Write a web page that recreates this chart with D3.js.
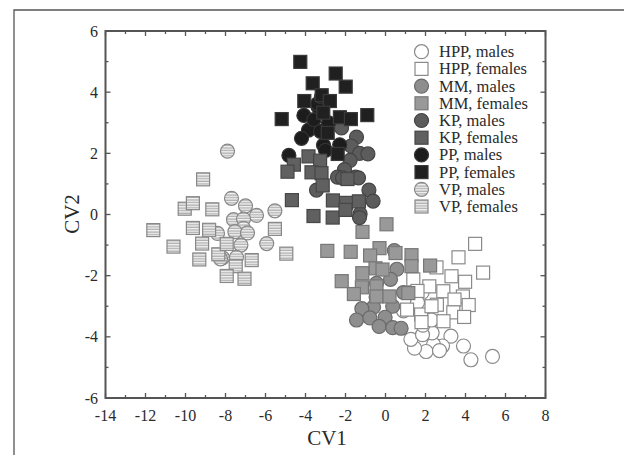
<!DOCTYPE html>
<html>
<head>
<meta charset="utf-8">
<script src="https://cdn.jsdelivr.net/npm/d3@7"></script>
<style>
  body { margin: 0; background: #fff; }
  svg { display: block; }
</style>
</head>
<body>
<svg id="chart" width="624" height="455"></svg>
<script>
// group points [CV1, CV2]
var hppMales = [[5.35,-4.64],[4.27,-4.75],[3.9,-4.3],[3.27,-3.98],[2.85,-4.3],[2.4,-4.25],[2.03,-4.48],
  [1.45,-4.37],[1.27,-4.08],[2.33,-3.87],[1.85,-3.93],[1.87,-3.62],[1.83,-2.55],[1.6,-2.88],[0.9,-3.15],
  [2.3,-3.45],[2.7,-4.45]];
var hppFemales = [[4.48,-0.96],[3.65,-1.4],[4.88,-1.9],[2.55,-1.73],[1.39,-2.12],[2.19,-2.35],[3.3,-2.02],
  [3.98,-2.2],[2.89,-2.51],[3.87,-2.68],[3.45,-2.78],[2.57,-2.95],[4.16,-2.96],[1.08,-3.11],[1.78,-3.27],
  [3.39,-3.2],[3.93,-3.35],[2.9,-3.49],[1.8,-3.52],[1.6,-2.5],[2.3,-3.0]];
var mmMales = [[0.44,-1.18],[0.57,-1.79],[0.25,-2.12],[-0.45,-2.25],[-0.47,-2.7],[0.36,-3.0],[-0.6,-3.03],
  [-1.18,-3.08],[-1.45,-3.45],[-0.78,-3.38],[-0.02,-3.36],[-0.32,-3.66],[0.36,-3.7],[0.78,-3.72],[0.9,-2.55]];
var mmFemales = [[0.05,-0.32],[-1.15,-0.57],[-2.91,-1.19],[-1.74,-1.22],[-0.3,-1.1],[-0.77,-1.34],[0.5,-1.26],
  [1.3,-1.33],[1.3,-1.69],[2.23,-1.67],[-0.5,-1.76],[-0.15,-1.8],[-1.16,-1.92],[-2.19,-2.18],[-1.18,-2.38],
  [-0.45,-2.35],[-1.58,-2.6],[-0.45,-2.68],[0.2,-2.68],[1.14,-2.57]];
var kpMales = [[-2.2,2.83],[-1.45,2.53],[-1.72,2.24],[-1.3,2.0],[-0.88,1.98],[-1.77,1.77],[-2.05,1.47],
  [-2.4,1.22],[-2.15,1.2],[-1.5,1.22],[-1.35,1.2],[-3.45,0.8],[-0.83,0.8],[-0.62,0.44],[-1.27,0.02],[-1.3,-0.1]];
var kpFemales = [[-3.85,1.9],[-4.58,1.63],[-4.9,1.4],[-3.27,1.76],[-3.7,1.38],[-3.2,1.35],[-3.14,0.95],
  [-1.9,1.16],[-4.68,0.47],[-3.6,-0.05],[-2.63,0.46],[-1.97,0.38],[-2.64,-0.1],[-1.33,0.43],[-2.0,0.15]];
var ppMales = [[-4.08,3.24],[-3.85,2.76],[-4.2,2.49],[-4.83,1.93],[-3.58,3.1],[-3.37,3.52],[-3.4,3.62],
  [-3.1,2.27],[-3.0,2.1],[-2.29,2.28],[-3.25,2.72],[-2.85,3.0],[-3.2,3.85]];
var ppFemales = [[-4.26,4.99],[-2.49,4.61],[-1.99,4.18],[-3.64,4.29],[-4.06,3.71],[-3.19,3.9],[-2.78,3.71],
  [-3.11,3.33],[-2.28,3.18],[-1.73,3.12],[-0.91,3.25],[-5.19,3.12],[-2.89,2.67],[-2.39,1.98]];
var vpMales = [[-7.9,2.07],[-7.7,0.53],[-7.0,0.28],[-6.45,-0.03],[-5.53,0.12],[-7.6,-0.17],[-7.1,-0.15],
  [-7.1,-0.45],[-7.53,-0.56],[-6.9,-0.6],[-8.4,-0.62],[-7.23,-1.0],[-5.94,-0.95],[-8.15,-1.42],[-8.25,-1.45],
  [-7.45,-1.4]];
var vpFemales = [[-11.61,-0.51],[-10.6,-1.05],[-10.04,0.19],[-9.63,0.37],[-9.12,1.15],[-8.66,0.17],
  [-9.63,-0.44],[-8.82,-0.5],[-9.17,-0.95],[-9.31,-1.47],[-8.36,-1.3],[-7.94,-0.96],[-7.49,-1.69],
  [-7.94,-2.01],[-7.05,-2.1],[-6.69,-1.49],[-5.53,-0.47],[-4.96,-1.28]];

var legendLabels = ["HPP, males","HPP, females","MM, males","MM, females","KP, males","KP, females",
  "PP, males","PP, females","VP, males","VP, females"];
var xTicks = [-14,-12,-10,-8,-6,-4,-2,0,2,4,6,8];
var yTicks = [-6,-4,-2,0,2,4,6];

var groups = [
  {name: "HPP, males",   pts: hppMales,   shape: "circle", fill: "#ffffff", stroke: "#8a8a8a"},
  {name: "HPP, females", pts: hppFemales, shape: "square", fill: "#ffffff", stroke: "#8a8a8a"},
  {name: "MM, males",    pts: mmMales,    shape: "circle", fill: "#8e8e8e", stroke: "#6a6a6a"},
  {name: "MM, females",  pts: mmFemales,  shape: "square", fill: "#999999", stroke: "#777777"},
  {name: "KP, males",    pts: kpMales,    shape: "circle", fill: "#5c5c5c", stroke: "#444444"},
  {name: "KP, females",  pts: kpFemales,  shape: "square", fill: "#606060", stroke: "#474747"},
  {name: "PP, males",    pts: ppMales,    shape: "circle", fill: "#1c1c1c", stroke: "#333333"},
  {name: "PP, females",  pts: ppFemales,  shape: "square", fill: "#202020", stroke: "#3a3a3a"},
  {name: "VP, males",    pts: vpMales,    shape: "circle", fill: "url(#stripes)", stroke: "#888888"},
  {name: "VP, females",  pts: vpFemales,  shape: "square", fill: "url(#stripes)", stroke: "#888888"}
];
// drawing order (later on top)
var drawOrder = ["HPP, males","HPP, females","MM, males","MM, females","KP, males","PP, males",
  "KP, females","PP, females","VP, males","VP, females"];

var svg = d3.select("#chart");
var serif = "'Liberation Serif', 'Times New Roman', serif";

var mLeft = 105.5, mRight = 545.5, mTop = 31, mBottom = 398;
var xScale = d3.scaleLinear().domain([-14, 8]).range([mLeft, mRight]);
var yScale = d3.scaleLinear().domain([-6, 6]).range([mBottom, mTop]);

// stripes for VP
var pat = svg.append("defs").append("pattern")
  .attr("id", "stripes")
  .attr("patternUnits", "userSpaceOnUse")
  .attr("width", 6).attr("height", 2.6);
pat.append("rect").attr("width", 6).attr("height", 2.6).attr("fill", "#f2f2f2");
pat.append("rect").attr("y", 1.4).attr("width", 6).attr("height", 1).attr("fill", "#9c9c9c");

// outer page frame
svg.append("path")
  .attr("d", "M14,460 L14,10 L630,10")
  .attr("fill", "none").attr("stroke", "#555").attr("stroke-width", 1.3);

var R = 7, S = 13;
function drawMark(sel, g) {
  if (g.shape === "circle") {
    sel.append("circle").attr("r", R);
  } else {
    sel.append("rect").attr("x", -S / 2).attr("y", -S / 2).attr("width", S).attr("height", S);
  }
  sel.selectAll("circle,rect").attr("fill", g.fill).attr("stroke", g.stroke).attr("stroke-width", 1.2);
}

var plot = svg.append("g");
drawOrder.forEach(function(n) {
  var g = groups.find(function(d) { return d.name === n; });
  plot.append("g").selectAll("g").data(g.pts).enter().append("g")
    .attr("transform", function(d) { return "translate(" + xScale(d[0]) + "," + yScale(d[1]) + ")"; })
    .each(function() { drawMark(d3.select(this), g); });
});

// axes: ticks inward on all sides
var minorX = d3.range(-14, 9, 1), minorY = d3.range(-6, 7, 1);
function tickLen(v) { return v % 2 === 0 ? 5 : 3; }
var axG = svg.append("g").attr("stroke", "#555").attr("stroke-width", 1.3);
minorX.forEach(function(v) {
  axG.append("line").attr("x1", xScale(v)).attr("x2", xScale(v)).attr("y1", mBottom).attr("y2", mBottom - tickLen(v));
  axG.append("line").attr("x1", xScale(v)).attr("x2", xScale(v)).attr("y1", mTop).attr("y2", mTop + tickLen(v));
});
minorY.forEach(function(v) {
  axG.append("line").attr("y1", yScale(v)).attr("y2", yScale(v)).attr("x1", mLeft).attr("x2", mLeft + tickLen(v));
  axG.append("line").attr("y1", yScale(v)).attr("y2", yScale(v)).attr("x1", mRight).attr("x2", mRight - tickLen(v));
});
svg.append("rect")
  .attr("x", mLeft).attr("y", mTop).attr("width", mRight - mLeft).attr("height", mBottom - mTop)
  .attr("fill", "none").attr("stroke", "#555").attr("stroke-width", 2);

var fmt = function(v) { return v < 0 ? "-" + Math.abs(v) : String(v); };
svg.append("g").selectAll("text").data(xTicks).enter().append("text")
  .attr("x", function(d) { return xScale(d); }).attr("y", 421)
  .attr("text-anchor", "middle").attr("font-family", serif).attr("font-size", 16).attr("fill", "#2a2a2a")
  .text(fmt);
svg.append("g").selectAll("text").data(yTicks).enter().append("text")
  .attr("x", 98).attr("y", function(d) { return yScale(d) + 5.5; })
  .attr("text-anchor", "end").attr("font-family", serif).attr("font-size", 16).attr("fill", "#2a2a2a")
  .text(fmt);

svg.append("text").attr("x", 327).attr("y", 445).attr("text-anchor", "middle")
  .attr("font-family", serif).attr("font-size", 21).attr("fill", "#2a2a2a").text("CV1");
svg.append("text").attr("transform", "translate(79,214) rotate(-90)").attr("text-anchor", "middle")
  .attr("font-family", serif).attr("font-size", 21).attr("fill", "#2a2a2a").text("CV2");

// legend
var leg = svg.append("g");
legendLabels.forEach(function(lab, i) {
  var g = groups.find(function(d) { return d.name === lab; });
  var cy = 51.7 + i * 17.2;
  var item = leg.append("g").attr("transform", "translate(421.5," + cy + ")");
  drawMark(item, g);
  leg.append("text").attr("x", 439).attr("y", cy + 5.5)
    .attr("font-family", serif).attr("font-size", 16.5).attr("fill", "#2a2a2a").text(lab);
});
</script>
</body>
</html>
